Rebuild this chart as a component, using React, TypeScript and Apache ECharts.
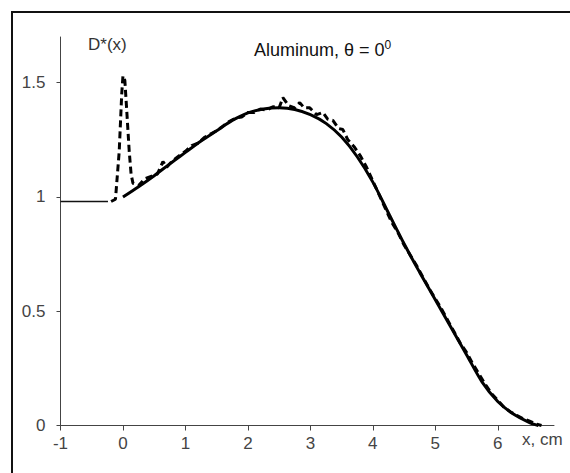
import React, { useEffect, useRef } from "react";
import * as echarts from "echarts";

const xTicks = [-1, 0, 1, 2, 3, 4, 5, 6];
const yTicks = [0, 0.5, 1, 1.5];

const baseline: [number, number][] = [
  [-1, 0.98],
  [-0.24, 0.98],
];

const theory: [number, number][] = [
  [0, 1.0], [0.25, 1.045], [0.5, 1.093], [0.75, 1.145], [1.0, 1.195],
  [1.25, 1.245], [1.5, 1.29], [1.75, 1.335], [2.0, 1.368], [2.25, 1.385],
  [2.5, 1.39], [2.75, 1.383], [3.0, 1.36], [3.25, 1.322], [3.5, 1.262],
  [3.75, 1.176], [4.0, 1.065], [4.25, 0.93], [4.5, 0.795], [4.75, 0.67],
  [5.0, 0.55], [5.25, 0.43], [5.5, 0.31], [5.75, 0.19], [6.0, 0.105],
  [6.25, 0.05], [6.5, 0.014], [6.65, 0.0],
];

const measured: [number, number][] = [
  [-0.19, 0.98], [-0.12, 0.99], [-0.06, 1.2], [-0.02, 1.45], [0.0, 1.53],
  [0.03, 1.51], [0.06, 1.38], [0.1, 1.2], [0.13, 1.1], [0.16, 1.06],
  [0.25, 1.05], [0.35, 1.08], [0.45, 1.09], [0.55, 1.1], [0.64, 1.155],
  [0.7, 1.13], [0.8, 1.16], [0.9, 1.18], [1.0, 1.2], [1.1, 1.225],
  [1.2, 1.235], [1.3, 1.26], [1.4, 1.275], [1.5, 1.29], [1.6, 1.31],
  [1.7, 1.33], [1.8, 1.345], [1.9, 1.35], [2.0, 1.37], [2.1, 1.37],
  [2.2, 1.385], [2.3, 1.38], [2.4, 1.395], [2.5, 1.39], [2.56, 1.435],
  [2.65, 1.4], [2.75, 1.39], [2.83, 1.413], [2.9, 1.39], [2.99, 1.39],
  [3.1, 1.36], [3.2, 1.37], [3.28, 1.34], [3.36, 1.335], [3.45, 1.3],
  [3.52, 1.295], [3.6, 1.25], [3.7, 1.22], [3.8, 1.18], [3.9, 1.13],
  [4.0, 1.07], [4.1, 1.01], [4.2, 0.95], [4.3, 0.89], [4.4, 0.845],
  [4.5, 0.79], [4.6, 0.745], [4.7, 0.7], [4.8, 0.65], [4.9, 0.6],
  [5.0, 0.555], [5.1, 0.51], [5.2, 0.46], [5.3, 0.41], [5.4, 0.36],
  [5.5, 0.32], [5.6, 0.27], [5.7, 0.225], [5.8, 0.18], [5.9, 0.14],
  [6.0, 0.11], [6.1, 0.08], [6.2, 0.06], [6.3, 0.045], [6.4, 0.03],
  [6.5, 0.02], [6.6, 0.008], [6.7, 0.0],
];

const FONT = "'Liberation Sans', Arial, sans-serif";

export default function App() {
  const ref = useRef<HTMLDivElement>(null);
  useEffect(() => {
    document.body.style.margin = "0";
    if (!ref.current) return;
    const chart = echarts.init(ref.current, undefined, { renderer: "svg" });
    chart.setOption({
      animation: false,
      backgroundColor: "#ffffff",
      grid: { left: 60.5, right: 16, top: 37, bottom: 47.5, containLabel: false },
      title: {
        text: "Aluminum, θ = 0{s|0}",
        left: 249,
        top: 34,
        textStyle: {
          fontFamily: FONT,
          fontSize: 18,
          fontWeight: "normal",
          color: "#111",
          rich: {
            s: { fontSize: 12, fontFamily: FONT, color: "#111", verticalAlign: "top", padding: [0, 0, 9, 0] },
          },
        },
      },
      xAxis: {
        type: "value",
        min: -1,
        max: 6.9,
        axisLine: { show: true, onZero: false, lineStyle: { color: "#444", width: 1 } },
        axisTick: { show: true, customValues: xTicks, length: 5, lineStyle: { color: "#444" } },
        axisLabel: {
          customValues: xTicks,
          margin: 9,
          fontFamily: FONT,
          fontSize: 17,
          color: "#444",
        },
        splitLine: { show: false },
      },
      yAxis: {
        type: "value",
        min: 0,
        max: 1.7,
        axisLine: { show: true, onZero: false, lineStyle: { color: "#444", width: 1 } },
        axisTick: { show: true, customValues: yTicks, length: 4, lineStyle: { color: "#444" } },
        axisLabel: {
          customValues: yTicks,
          margin: 15,
          fontFamily: FONT,
          fontSize: 17,
          color: "#444",
        },
        splitLine: { show: false },
      },
      graphic: [
        {
          type: "rect",
          shape: { x: 12, y: 12, width: 700, height: 700 },
          style: { fill: "none", stroke: "#111", lineWidth: 2 },
          silent: true,
        },
        {
          type: "text",
          x: 88,
          y: 36,
          style: { text: "D*(x)", fontFamily: FONT, fontSize: 17, fill: "#333" },
        },
        {
          type: "text",
          x: 522,
          y: 431,
          style: { text: "x, cm", fontFamily: FONT, fontSize: 17, fill: "#444" },
        },
      ],
      series: [
        {
          type: "line",
          data: baseline,
          showSymbol: false,
          lineStyle: { color: "#111", width: 1.5 },
        },
        {
          type: "line",
          data: measured,
          showSymbol: false,
          lineStyle: { color: "#000", width: 3, type: [7, 4] },
        },
        {
          type: "line",
          data: theory,
          smooth: 0.3,
          showSymbol: false,
          lineStyle: { color: "#000", width: 3 },
        },
      ],
    });
    return () => chart.dispose();
  }, []);
  return <div ref={ref} style={{ width: 570, height: 473 }} />;
}
